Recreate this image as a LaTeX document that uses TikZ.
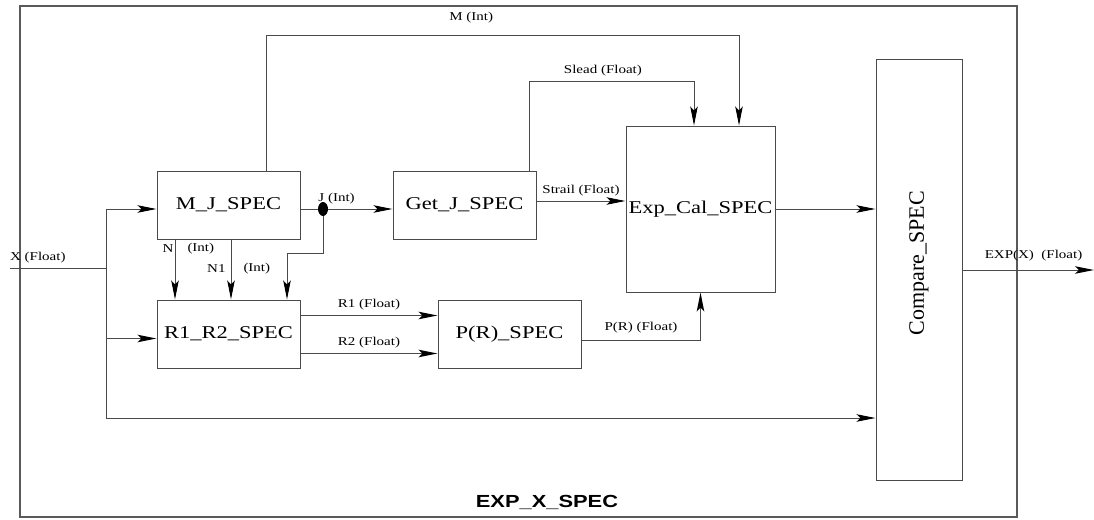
\documentclass[tikz,border=0pt]{standalone}
\usepackage{fontspec}
\setmainfont{Liberation Serif}[FakeStretch=1.25]
\newfontfamily\plainserif{Liberation Serif}
\newfontfamily\titlesans{Liberation Sans}[FakeStretch=1.25]
\usepackage{xcolor}
\definecolor{wiregray}{HTML}{4A4A4A}
\definecolor{framegray}{HTML}{5A5A5A}
\usetikzlibrary{shapes.geometric, arrows.meta, positioning}
\tikzset{
  specbox/.style ={rectangle, draw=wiregray, line width=1pt, inner sep=0pt,
                   minimum width=143pt, minimum height=68pt, font=\fontsize{18}{20}\selectfont},
  sigline/.style ={line width=1pt, draw=wiregray},
  sigarr/.style  ={-{Stealth[length=19pt, width=7.5pt, inset=4pt, color=black]}, line width=1pt, draw=wiregray},
  siglbl/.style  ={font=\fontsize{12}{14}\selectfont, inner sep=1pt},
  jdot/.style    ={ellipse, fill=black, inner sep=0pt, minimum width=10pt, minimum height=14pt},
}

\begin{document}
\begin{tikzpicture}[x=1pt, y=-1pt]
  \useasboundingbox (0,0) rectangle (1094,519);
  % outer block
  \node[draw=framegray, line width=1.6pt, minimum width=997pt, minimum height=511pt] (frame) at (518.5,261.5) {};
  \node[font=\titlesans\bfseries\fontsize{17.5}{19}\selectfont] (title) at (547,502) {EXP\_X\_SPEC};
  % blocks
  \node[specbox] (mj) at (228.5,205) {M\_J\_SPEC};
  \node[specbox, right=92pt of mj] (getj) {Get\_J\_SPEC};
  \node[specbox, below=60pt of mj] (r1r2) {R1\_R2\_SPEC};
  \node[specbox, right=137pt of r1r2] (pr) {P(R)\_SPEC};
  \node[specbox, minimum width=149pt, minimum height=166pt] (expcal) at (700.5,209) {Exp\_Cal\_SPEC};
  \node[specbox, minimum width=86pt, minimum height=420pt] (cmp) at (919,270) {};
  \node[rotate=90, inner sep=0pt, font=\plainserif\fontsize{22}{24}\selectfont] (cmplbl)
       at ([yshift=7pt]cmp.center) {Compare\_SPEC};
  \node[jdot] (jd) at (323,209) {};
  % helper points
  \coordinate (xin) at (10,268);
  \coordinate (xbus) at (106,268);
  \coordinate (xlow) at (106,418);
  \coordinate (mtop) at (266,36);
  \coordinate (stop) at (529,81);
  \coordinate (jbend) at (323,253);
  \coordinate (xout) at (1094,270);
  % X input and its branches
  \draw[sigline] (xin) -- node[siglbl, above=3pt, pos=0.29] {X (Float)} (xbus);
  \draw[sigarr] (xbus) |- ([yshift=-4pt]mj.west);
  \draw[sigarr] (xbus) |- ([yshift=-4.5pt]r1r2.west);
  \draw[sigarr] (xbus) -- (xlow) -- (xlow -| cmp.west);
  % J
  \draw[sigline] ([yshift=-4pt]mj.east) -- (jd);
  \draw[sigarr] (jd) -- node[siglbl, above=3pt, pos=0.13] {J (Int)} (jd -| getj.west);
  \draw[sigarr] (jd) -- (jbend) -| ([xshift=58.5pt]r1r2.north);
  % N, N1
  \draw[sigarr] ([xshift=-53.5pt]mj.south) -- node[siglbl, left, pos=0.15] {N}
                node[siglbl, right, pos=0.15, xshift=11pt] {(Int)} ([xshift=-53.5pt]r1r2.north);
  \draw[sigarr] ([xshift=2.5pt]mj.south) -- node[siglbl, left, pos=0.48, xshift=-4pt] {N1}
                node[siglbl, right, pos=0.48, xshift=11pt] {(Int)} ([xshift=2.5pt]r1r2.north);
  % M
  \draw[sigarr] (mtop |- mj.north) -- (mtop) -| node[siglbl, above=11pt, pos=0.217] {M (Int)}
                ([xshift=38.5pt]expcal.north);
  % Slead, Strail
  \draw[sigarr] (stop |- getj.north) -- (stop) -| node[siglbl, above=3pt, pos=0.224] {Slead (Float)}
                ([xshift=-6.5pt]expcal.north);
  \draw[sigarr] ([yshift=4pt]getj.east) -- node[siglbl, above=3pt] {Strail (Float)}
                ([yshift=4pt]getj.east -| expcal.west);
  % R1, R2, P(R)
  \draw[sigarr] ([yshift=18.5pt]r1r2.east) -- node[siglbl, above=4pt] {R1 (Float)}
                ([yshift=18.5pt]r1r2.east -| pr.west);
  \draw[sigarr] ([yshift=-19.5pt]r1r2.east) -- node[siglbl, above=4pt] {R2 (Float)}
                ([yshift=-19.5pt]r1r2.east -| pr.west);
  \draw[sigarr] ([yshift=-6pt]pr.east) -| node[siglbl, above=5pt, pos=0.25] {P(R) (Float)} (expcal.south);
  % to Compare and out
  \draw[sigarr] (expcal) -- (expcal -| cmp.west);
  \draw[sigarr] (cmp.east) -- node[siglbl, above=7pt, pos=0.54] {EXP(X)~~(Float)} (xout);
\end{tikzpicture}
\end{document}
